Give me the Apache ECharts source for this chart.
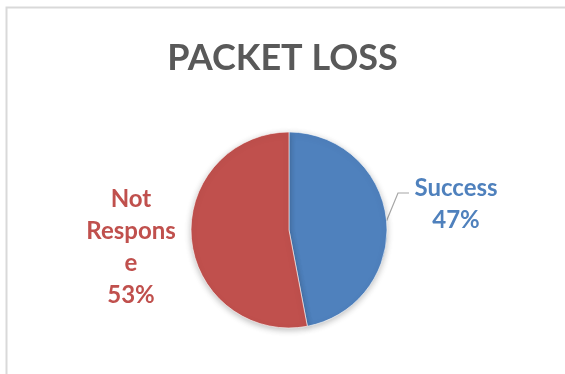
<!DOCTYPE html>
<html>
<head>
<meta charset="utf-8">
<script src="https://cdn.jsdelivr.net/npm/echarts@6/dist/echarts.min.js"></script>
<style>
  html, body { margin: 0; padding: 0; background: #fff; }
  #main { width: 565px; height: 374px; }
</style>
</head>
<body>
<div id="main"></div>
<script>
  const title = 'PACKET LOSS';
  const categories = ['Success', 'Not Response'];
  const values = [47, 53];
  // label text as wrapped in the original
  const labelNames = ['Success', 'Not\nRespons\ne'];
  const colors = ['#4F81BD', '#C0504D'];
  // label block centres
  const labelPos = [[456, 204], [131, 247]];

  const chart = echarts.init(document.getElementById('main'));

  const option = {
    backgroundColor: '#fff',
    animation: false,
    title: {
      text: title,
      left: 'center',
      top: 35,
      textStyle: {
        fontFamily: 'Lato',
        fontWeight: 'bold',
        fontSize: 36,
        color: '#595959'
      }
    },
    graphic: [
      {
        type: 'rect',
        shape: { x: 6.5, y: 7.5, width: 620, height: 420 },
        style: { fill: 'none', stroke: '#d9d9d9', lineWidth: 2 },
        silent: true
      }
    ],
    series: [
      {
        type: 'pie',
        center: [289, 230],
        radius: 98,
        startAngle: 90,
        clockwise: true,
        data: categories.map((name, i) => ({
          name: name,
          value: values[i],
          itemStyle: { color: colors[i] },
          label: { color: colors[i] },
          labelLine: { show: i === 0 }
        })),
        itemStyle: {
          borderColor: '#fff',
          borderWidth: 0.6,
          shadowBlur: 6,
          shadowOffsetY: 2,
          shadowColor: 'rgba(0,0,0,0.25)'
        },
        label: {
          show: true,
          position: 'outside',
          fontFamily: 'Lato',
          fontWeight: 'bold',
          fontSize: 24,
          lineHeight: 32,
          align: 'center',
          formatter: function (p) {
            return labelNames[p.dataIndex] + '\n' + p.percent + '%';
          }
        },
        labelLine: {
          show: true,
          length: 10,
          length2: 10,
          lineStyle: { color: '#a6a6a6', width: 1.2 }
        },
        labelLayout: function (params) {
          const pos = labelPos[params.dataIndex];
          const out = { x: pos[0], y: pos[1], align: 'center', verticalAlign: 'middle' };
          const pts = params.labelLinePoints;
          if (pts && params.dataIndex === 0) {
            // elbow leader: up from the slice edge, then across to the first text line
            const textLeft = pos[0] - 42;
            const lineY = pos[1] - 11;
            out.labelLinePoints = [pts[0], [textLeft - 16, lineY], [textLeft - 5, lineY]];
          }
          return out;
        },
        emphasis: { disabled: true }
      }
    ]
  };

  chart.setOption(option);
</script>
</body>
</html>
